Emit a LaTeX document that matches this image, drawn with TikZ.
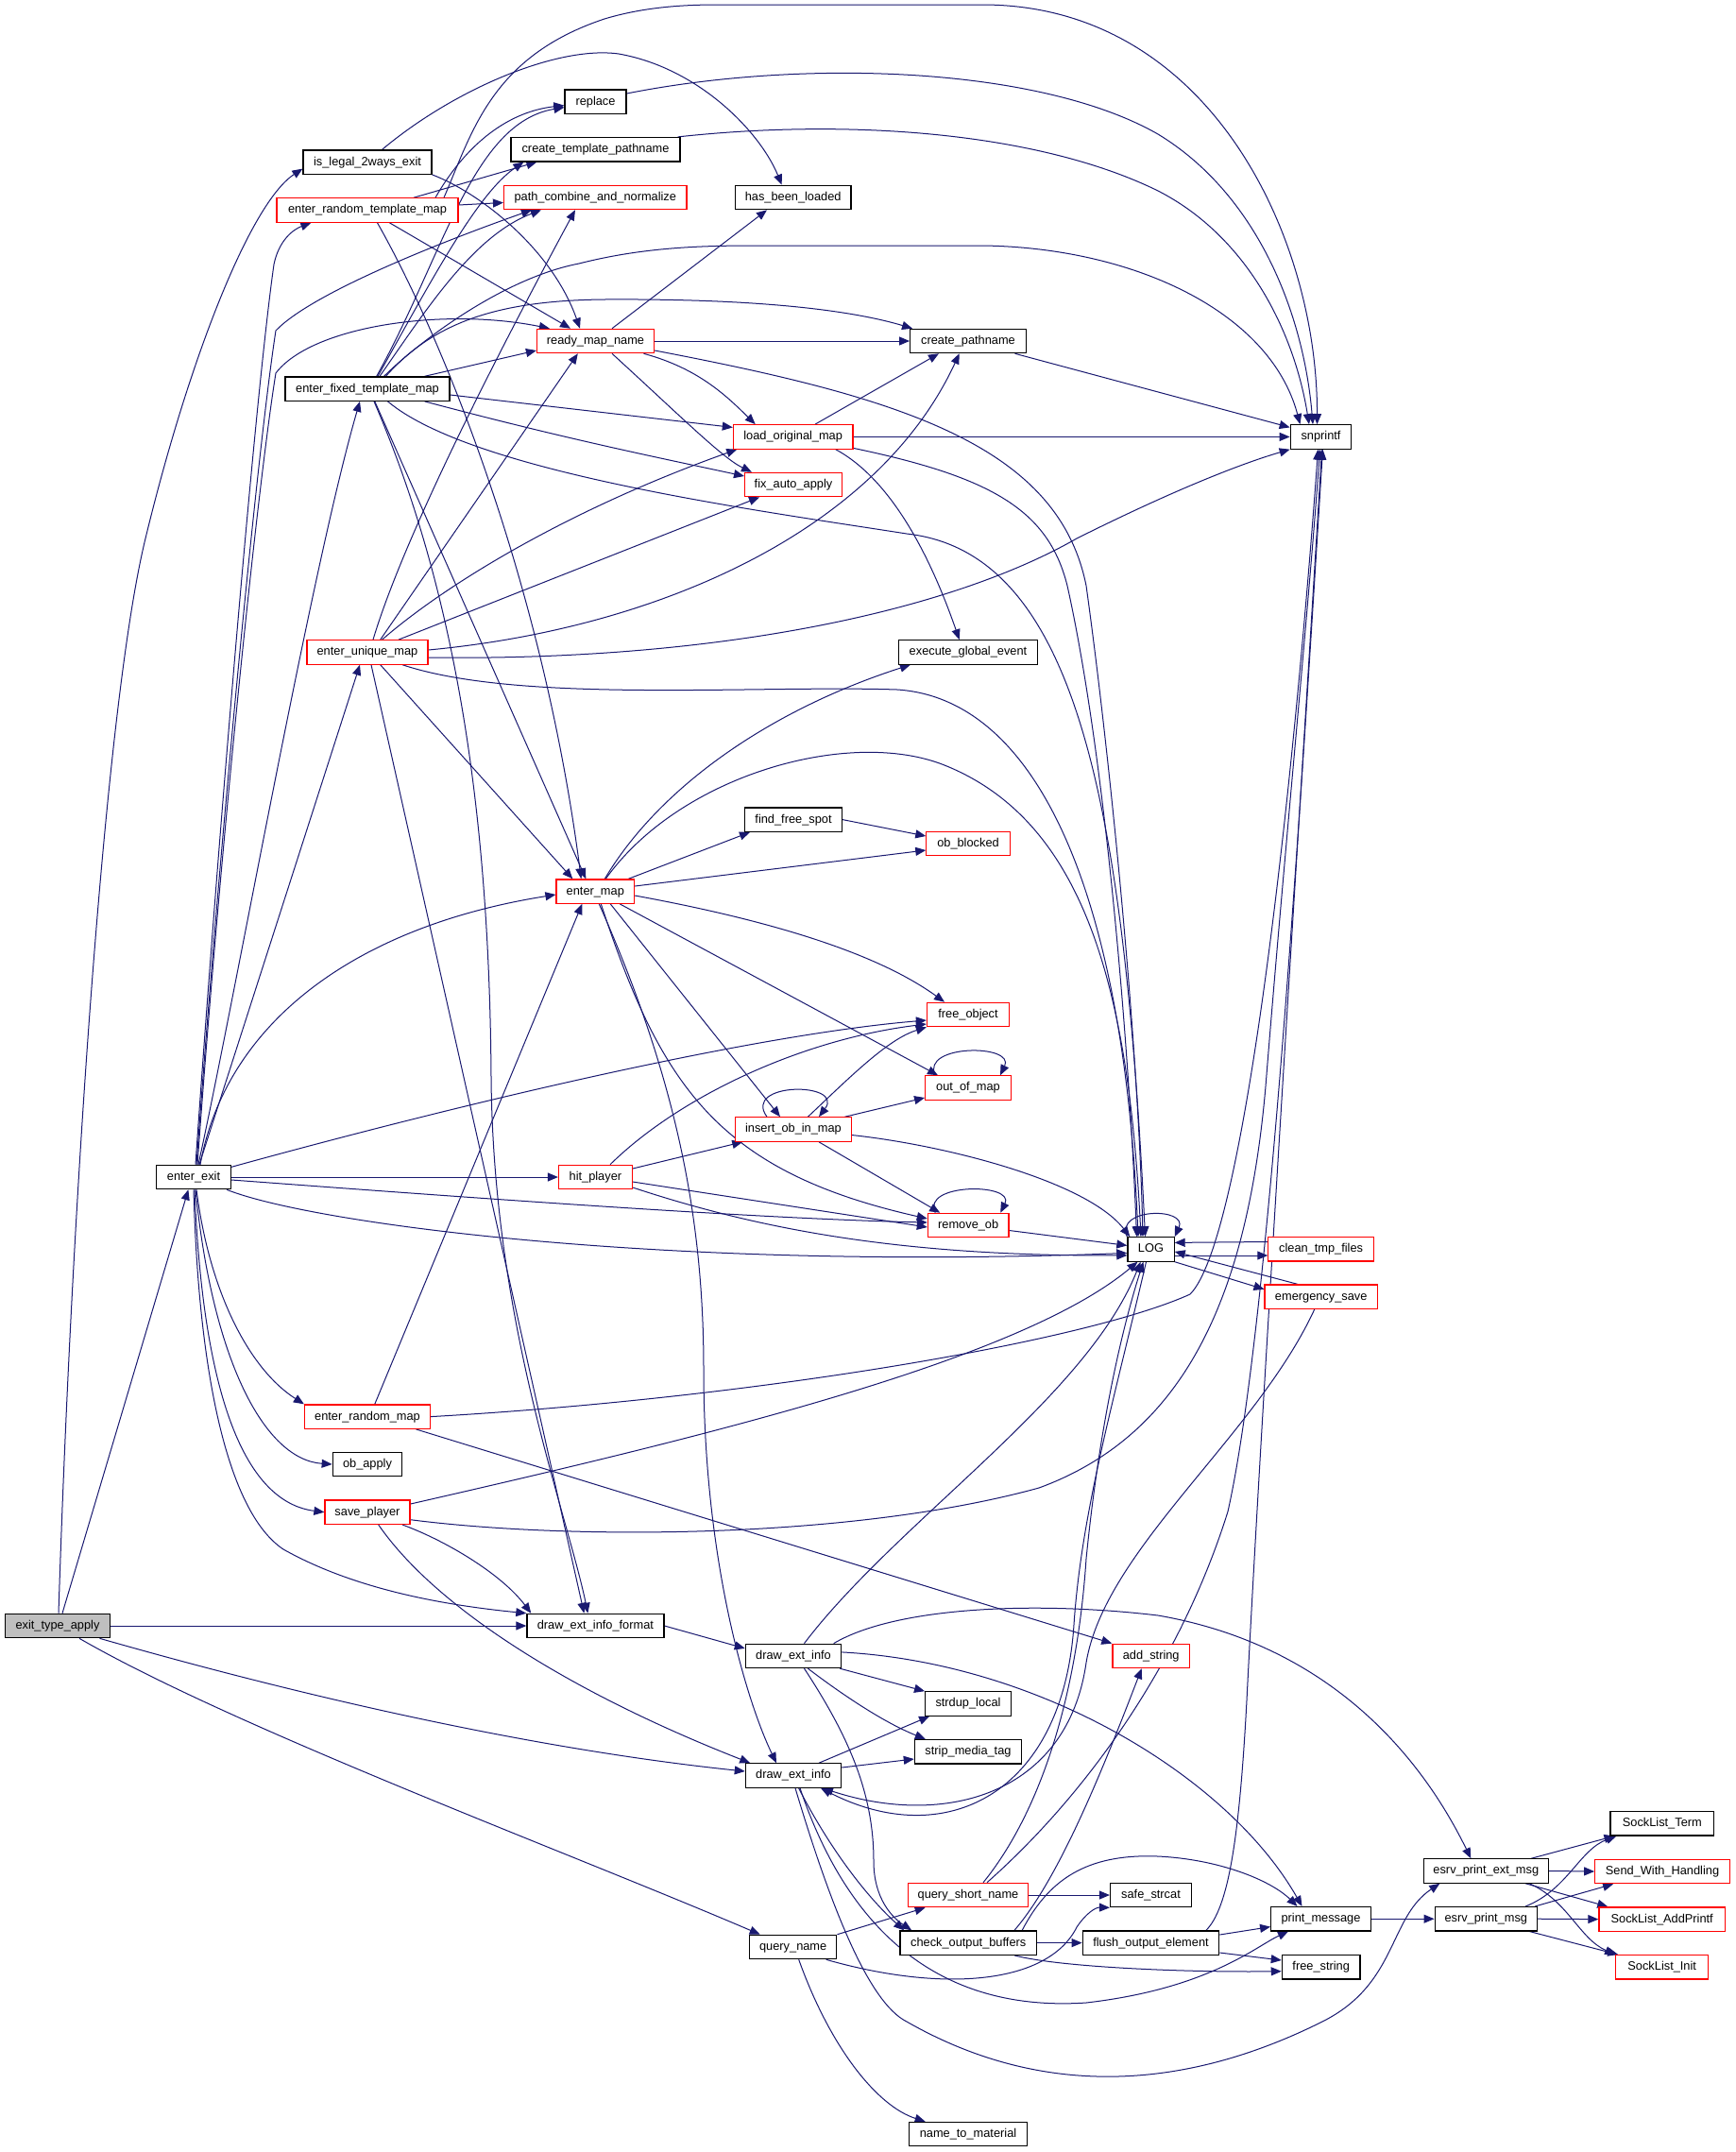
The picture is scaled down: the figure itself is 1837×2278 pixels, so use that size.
\documentclass[tikz,border=0pt]{standalone}
\usepackage{fontspec}
\setmainfont{Liberation Sans}
\usetikzlibrary{arrows.meta}
\definecolor{edgec}{HTML}{191970}
\definecolor{fillg}{HTML}{BFBFBF}
\pgfdeclarelayer{bg}
\pgfsetlayers{bg,main}
\begin{document}
\begin{tikzpicture}[x=1pt,y=-1pt,
  fn/.style={draw=black, line width=1.2pt, fill=white, minimum height=25.4pt, inner sep=0pt,
    text height=9.4pt, text depth=2.6pt, font=\fontsize{12.8pt}{15pt}\selectfont},
  fnr/.style={fn, draw=red},
  call/.style={draw=edgec, line width=1pt, -{Triangle[length=11pt,width=9pt]}}]
\useasboundingbox (0,0) rectangle (1837,2278);
% nodes
\node[fn, fill=fillg, minimum width=111pt] (n1) at (61,1721) {exit\_type\_apply};
\node[fn, minimum width=136pt] (n2) at (389,171.6) {is\_legal\_2ways\_exit};
\node[fnr, minimum width=192pt] (n3) at (389,222.5) {enter\_random\_template\_map};
\node[fn, minimum width=174pt] (n4) at (389,411.6) {enter\_fixed\_template\_map};
\node[fnr, minimum width=128pt] (n5) at (389,690.4) {enter\_unique\_map};
\node[fn, minimum width=79pt] (n6) at (205,1246) {enter\_exit};
\node[fnr, minimum width=133pt] (n7) at (389,1499.6) {enter\_random\_map};
\node[fn, minimum width=73.5pt] (n8) at (389,1550) {ob\_apply};
\node[fnr, minimum width=90pt] (n9) at (389,1600.7) {save\_player};
\node[fn, minimum width=65pt] (n10) at (630.5,107.6) {replace};
\node[fn, minimum width=179pt] (n11) at (630.5,158.2) {create\_template\_pathname};
\node[fnr, minimum width=193.5pt] (n12) at (630.3,209) {path\_combine\_and\_normalize};
\node[fnr, minimum width=124pt] (n13) at (630.5,361) {ready\_map\_name};
\node[fnr, minimum width=82.6pt] (n14) at (630.3,943.6) {enter\_map};
\node[fnr, minimum width=77.8pt] (n15) at (630.4,1246) {hit\_player};
\node[fn, minimum width=145pt] (n16) at (630.4,1721) {draw\_ext\_info\_format};
\node[fn, minimum width=122.6pt] (n17) at (839.7,209) {has\_been\_loaded};
\node[fnr, minimum width=126.6pt] (n18) at (839.7,462.4) {load\_original\_map};
\node[fnr, minimum width=102.8pt] (n19) at (840,513) {fix\_auto\_apply};
\node[fn, minimum width=102.8pt] (n20) at (840,867.6) {find\_free\_spot};
\node[fnr, minimum width=122.3pt] (n21) at (840,1195.5) {insert\_ob\_in\_map};
\node[fn, minimum width=101.3pt] (n22) at (840,1752.9) {draw\_ext\_info};
\node[fn, minimum width=101.3pt] (n23) at (840,1879.5) {draw\_ext\_info};
\node[fn, minimum width=92.3pt] (n24) at (839.7,2061) {query\_name};
\node[fn, minimum width=122.7pt] (n25) at (1025,361) {create\_pathname};
\node[fn, minimum width=147pt] (n26) at (1025,690.4) {execute\_global\_event};
\node[fnr, minimum width=88.3pt] (n27) at (1025,893) {ob\_blocked};
\node[fnr, minimum width=87.1pt] (n28) at (1025,1074) {free\_object};
\node[fnr, minimum width=90.7pt] (n29) at (1025,1151.5) {out\_of\_map};
\node[fnr, minimum width=85.6pt] (n30) at (1025.2,1297) {remove\_ob};
\node[fn, minimum width=90.7pt] (n31) at (1025,1803.5) {strdup\_local};
\node[fn, minimum width=113.3pt] (n32) at (1025,1854.2) {strip\_media\_tag};
\node[fnr, minimum width=127.5pt] (n33) at (1025,2006) {query\_short\_name};
\node[fn, minimum width=144.3pt] (n34) at (1025.2,2056.6) {check\_output\_buffers};
\node[fn, minimum width=125.5pt] (n35) at (1025,2259) {name\_to\_material};
\node[fn, minimum width=49.2pt] (n36) at (1218.5,1322.4) {LOG};
\node[fnr, minimum width=81.6pt] (n37) at (1218.7,1752.9) {add\_string};
\node[fn, minimum width=86pt] (n38) at (1218.5,2006) {safe\_strcat};
\node[fn, minimum width=144.5pt] (n39) at (1218.5,2056.6) {flush\_output\_element};
\node[fn, minimum width=64.5pt] (n40) at (1398.5,462.4) {snprintf};
\node[fnr, minimum width=111.5pt] (n41) at (1398.6,1322.2) {clean\_tmp\_files};
\node[fnr, minimum width=119.3pt] (n42) at (1398.7,1372.7) {emergency\_save};
\node[fn, minimum width=105.7pt] (n43) at (1398.5,2031.2) {print\_message};
\node[fn, minimum width=82.7pt] (n44) at (1398.7,2082.3) {free\_string};
\node[fn, minimum width=131.7pt] (n45) at (1573.3,1980.5) {esrv\_print\_ext\_msg};
\node[fn, minimum width=108.3pt] (n46) at (1573.3,2031.2) {esrv\_print\_msg};
\node[fn, minimum width=109.5pt] (n47) at (1759.8,1930.2) {SockList\_Term};
\node[fnr, minimum width=142.6pt] (n48) at (1760,1981) {Send\_With\_Handling};
\node[fnr, minimum width=133.6pt] (n49) at (1759.7,2031.6) {SockList\_AddPrintf};
\node[fnr, minimum width=97.8pt] (n50) at (1759.7,2082.3) {SockList\_Init};
\begin{pgfonlayer}{bg}
\fill[white] (0,0) rectangle (1837,2278);
% exit_type_apply
\draw[call] ([xshift=1pt]n1.north) .. controls (75,1300) and (110,750) .. (154,570) .. controls (200,380) and (265,215) .. ([yshift=-7pt]n2.west);
\draw[call] ([xshift=5pt]n1.north) -- ([xshift=-5.6pt]n6.south);
\draw[call] (n1.east) -- (n16.west);
\draw[call] ([xshift=44.5pt]n1.south) .. controls (300,1790) and (550,1850) .. ([yshift=4.5pt]n23.west);
\draw[call] ([xshift=23pt]n1.south) .. controls (250,1830) and (600,1960) .. ([xshift=-35pt]n24.north);
% is_legal_2ways_exit
\draw[call] ([xshift=15.6pt]n2.north) .. controls (480,95) and (590,48) .. (655,57) .. controls (740,72) and (805,140) .. ([xshift=-12pt]n17.north);
\draw[call] (n2.south east) .. controls (510,205) and (585,265) .. ([xshift=-16.5pt]n13.north);
% enter_random_template_map
\draw[call] ([xshift=72pt]n3.north) .. controls (495,150) and (540,118) .. ([yshift=-4pt]n10.west);
\draw[call] ([xshift=49pt]n3.north) -- ([xshift=28pt]n11.south west);
\draw[call] ([yshift=5.5pt]n3.east) -- ([yshift=-5.5pt]n12.west);
\draw[call] ([xshift=23.4pt]n3.south) -- ([xshift=-26.5pt]n13.north);
\draw[call] ([xshift=10.5pt]n3.south) .. controls (470,360) and (575,620) .. ([xshift=-15pt]n14.north);
\draw[call] ([xshift=81pt]n3.north) .. controls (500,140) and (520,60) .. (640,20) .. controls (680,8) and (720,5) .. (760,5) -- (1040,5) .. controls (1280,5) and (1395,250) .. ([xshift=-4pt]n40.north);
% enter_fixed_template_map
\draw[call] ([xshift=9.7pt]n4.north) .. controls (470,270) and (500,130) .. ([yshift=-6pt]n10.west);
\draw[call] ([xshift=11pt]n4.north) .. controls (455,300) and (505,205) .. ([xshift=14pt]n11.south west);
\draw[call] ([xshift=13pt]n4.north) .. controls (450,330) and (500,250) .. ([xshift=40pt]n12.south west);
\draw[call] ([xshift=17.6pt]n4.north) .. controls (440,365) and (530,295) .. (613,279) .. controls (680,262) and (740,260) .. (800,260) -- (1040,260) .. controls (1200,262) and (1345,330) .. ([xshift=-22pt]n40.north);
\draw[call] ([xshift=19.5pt]n4.north) .. controls (460,340) and (530,318) .. (640,317) .. controls (800,316) and (900,328) .. ([xshift=3pt]n25.north west);
\draw[call] ([xshift=60.6pt]n4.north) -- ([yshift=-10pt]n13.west);
\draw[call] ([yshift=-6.4pt]n4.east) -- ([yshift=10pt]n18.west);
\draw[call] ([xshift=60.6pt]n4.south) .. controls (600,465) and (700,485) .. ([yshift=9pt]n19.west);
\draw[call] ([xshift=21.5pt]n4.south) .. controls (500,500) and (800,540) .. (960,565) .. controls (1140,585) and (1190,850) .. ([xshift=-6pt]n36.north);
\draw[call] ([xshift=7.8pt]n4.south) -- ([xshift=-10pt]n14.north);
\draw[call] ([xshift=7pt]n4.south) .. controls (480,620) and (518,850) .. (520,1140) .. controls (522,1400) and (600,1600) .. ([xshift=-8pt]n16.north);
% enter_unique_map
\draw[call] ([xshift=6pt]n5.north) .. controls (430,560) and (540,350) .. ([xshift=76pt]n12.south west);
\draw[call] ([xshift=13.7pt]n5.north) -- ([xshift=-18.7pt]n13.south);
\draw[call] ([xshift=15.6pt]n5.north) .. controls (470,620) and (600,540) .. ([xshift=4.5pt]n18.south west);
\draw[call] ([xshift=33pt]n5.north) -- ([xshift=16pt]n19.south west);
\draw[call] ([yshift=2.4pt]n5.east) .. controls (700,665) and (930,560) .. ([xshift=-9.3pt]n25.south);
\draw[call] ([yshift=-5.6pt]n5.east) .. controls (750,700) and (1000,650) .. (1140,570) .. controls (1220,530) and (1300,495) .. (n40.south west);
\draw[call] ([xshift=37pt]n5.south) .. controls (550,745) and (800,725) .. (950,730) .. controls (1100,740) and (1190,950) .. ([xshift=-13.5pt]n36.north);
\draw[call] ([xshift=13.7pt]n5.south) -- ([xshift=-24pt]n14.north);
\draw[call] ([xshift=4pt]n5.south) -- ([xshift=-12pt]n16.north);
% enter_exit
\draw[call] ([xshift=2pt]n6.north) .. controls (230,900) and (270,420) .. (290,280) .. controls (295,255) and (310,243) .. ([xshift=37pt]n3.south west);
\draw[call] ([xshift=3pt]n6.north) .. controls (232,900) and (272,480) .. (292,350) .. controls (330,310) and (470,255) .. ([xshift=30pt]n12.south west);
\draw[call] ([xshift=4pt]n6.north) .. controls (233,900) and (272,520) .. (292,395) .. controls (330,345) and (470,325) .. ([xshift=14pt]n13.north west);
\draw[call] ([xshift=5pt]n6.north) .. controls (250,1050) and (330,600) .. ([xshift=-8pt]n4.south);
\draw[call] ([xshift=6pt]n6.north) -- ([xshift=-8pt]n5.south);
\draw[call] ([xshift=7pt]n6.north) .. controls (240,1080) and (380,980) .. ([yshift=-3.4pt]n14.west);
\draw[call] (n6.east) -- (n15.west);
\draw[call] ([yshift=10.7pt]n6.east) .. controls (500,1165) and (800,1095) .. ([yshift=-6pt]n28.west);
\draw[call] ([yshift=-3pt]n6.east) .. controls (500,1268) and (800,1290) .. ([yshift=3pt]n30.west);
\draw[call] ([xshift=35pt]n6.south) .. controls (330,1295) and (700,1345) .. ([yshift=-4pt]n36.west);
\draw[call] ([xshift=3pt]n6.south) .. controls (222,1370) and (265,1450) .. (n7.north west);
\draw[call] ([xshift=2pt]n6.south) .. controls (225,1440) and (280,1545) .. (n8.west);
\draw[call] ([xshift=1pt]n6.south) .. controls (215,1480) and (260,1590) .. (n9.west);
\draw[call] (n6.south) .. controls (210,1450) and (240,1600) .. (300,1640) .. controls (380,1685) and (480,1700) .. (n16.north west);
% enter_random_map
\draw[call] ([xshift=7.8pt]n7.north) -- ([xshift=-14pt]n14.south);
\draw[call] (n7.east) .. controls (800,1480) and (1150,1420) .. (1260,1370) .. controls (1320,1310) and (1372,800) .. ([xshift=-3pt]n40.south);
\draw[call] ([xshift=-15.7pt]n7.south east) -- (n37.north west);
% save_player
\draw[call] ([yshift=8.7pt]n9.east) .. controls (750,1520) and (1080,1440) .. ([xshift=-14pt]n36.south);
\draw[call] ([yshift=-8pt]n9.east) .. controls (600,1630) and (900,1630) .. (1100,1575) .. controls (1250,1520) and (1320,1380) .. (1340,1150) .. controls (1360,900) and (1385,650) .. ([xshift=-1pt]n40.south);
\draw[call] ([xshift=37pt]n9.south) .. controls (470,1630) and (530,1665) .. ([xshift=5pt]n16.north west);
\draw[call] ([xshift=11.7pt]n9.south) .. controls (460,1700) and (600,1790) .. ([xshift=5.5pt]n23.north west);
% replace, create_template_pathname, create_pathname -> snprintf
\draw[call] ([yshift=8.6pt]n10.east) .. controls (850,62) and (1100,70) .. (1226,142) .. controls (1330,205) and (1380,330) .. ([xshift=-8.5pt]n40.north);
\draw[call] ([xshift=-3pt]n11.north east) .. controls (900,125) and (1100,140) .. (1226,202) .. controls (1320,250) and (1370,350) .. ([xshift=-12.5pt]n40.north);
\draw[call] ([xshift=-12.35pt]n25.south east) -- ([yshift=10pt]n40.west);
% ready_map_name
\draw[call] ([xshift=17.5pt]n13.north) -- ([xshift=-27.7pt]n17.south);
\draw[call] (n13.east) -- (n25.west);
\draw[call] ([xshift=51pt]n13.south) .. controls (740,390) and (770,420) .. ([xshift=-40pt]n18.north);
\draw[call] ([xshift=17.5pt]n13.south) .. controls (720,440) and (765,485) .. ([xshift=8pt]n19.north west);
\draw[call] ([yshift=-10pt]n13.east) .. controls (950,420) and (1120,470) .. (1150,620) .. controls (1175,800) and (1205,1100) .. ([xshift=-8.5pt]n36.north);
% load_original_map
\draw[call] ([xshift=23.3pt]n18.north) -- ([xshift=-31pt]n25.south);
\draw[call] (n18.east) -- (n40.west);
\draw[call] ([yshift=-12pt]n18.east) .. controls (1050,505) and (1110,540) .. (1130,620) .. controls (1170,800) and (1195,1100) .. ([xshift=-15pt]n36.north);
\draw[call] ([xshift=45pt]n18.south) .. controls (930,500) and (975,560) .. ([xshift=-9.3pt]n26.north);
% enter_map
\draw[call] ([xshift=10pt]n14.north) .. controls (700,830) and (820,750) .. ([xshift=13pt]n26.south west);
\draw[call] ([xshift=11pt]n14.north) .. controls (720,820) and (900,770) .. (1000,810) .. controls (1150,870) and (1195,1050) .. ([xshift=-10.5pt]n36.north);
\draw[call] ([xshift=35pt]n14.north) -- ([xshift=6pt]n20.south west);
\draw[call] ([yshift=5.6pt]n14.east) -- ([yshift=-7pt]n27.west);
\draw[call] ([yshift=-4.4pt]n14.east) .. controls (820,975) and (930,1010) .. ([xshift=-25pt]n28.north);
\draw[call] ([xshift=26pt]n14.south) -- ([xshift=-32pt]n29.north);
\draw[call] ([xshift=16pt]n14.south) -- ([xshift=-14pt]n21.north);
\draw[call] ([xshift=6pt]n14.south) .. controls (700,1150) and (760,1240) .. ([yshift=7pt]n30.west);
\draw[call] ([xshift=4pt]n14.south) .. controls (720,1150) and (745,1300) .. (745,1450) .. controls (745,1650) and (790,1800) .. ([xshift=-18pt]n23.north);
% find_free_spot
\draw[call] (n20.east) -- ([yshift=8pt]n27.west);
% hit_player
\draw[call] ([xshift=15.6pt]n15.north) .. controls (720,1160) and (850,1100) .. ([yshift=-10pt]n28.west);
\draw[call] ([yshift=9pt]n15.east) -- ([xshift=8pt]n21.south west);
\draw[call] ([yshift=-5pt]n15.east) -- ([yshift=-2pt]n30.west);
\draw[call] ([yshift=-11pt]n15.east) .. controls (800,1300) and (950,1330) .. ([yshift=-6.5pt]n36.west);
% insert_ob_in_map
\draw[call] ([xshift=-28pt]n21.north) .. controls (785,1145) and (895,1145) .. ([xshift=27pt]n21.north);
\draw[call] ([xshift=15.4pt]n21.north) .. controls (900,1140) and (940,1100) .. (n28.south west);
\draw[call] ([xshift=54.5pt]n21.north) -- ([yshift=-10.5pt]n29.west);
\draw[call] ([yshift=-6pt]n21.east) .. controls (1000,1212) and (1150,1250) .. ([xshift=3pt]n36.north west);
\draw[call] ([xshift=27pt]n21.south) -- ([xshift=-30pt]n30.north);
% out_of_map, remove_ob
\draw[call] ([xshift=-35pt]n29.north) .. controls (975,1105) and (1075,1105) .. ([xshift=34pt]n29.north);
\draw[call] ([xshift=-35pt]n30.north) .. controls (975,1252) and (1075,1252) .. ([xshift=34pt]n30.north);
\draw[call] ([yshift=-5.5pt]n30.east) -- ([yshift=4pt]n36.west);
% LOG
\draw[call] (n36.north west) .. controls (1180,1278) and (1258,1278) .. (n36.north east);
\draw[call] ([yshift=-6.6pt]n36.east) -- ([yshift=-6.8pt]n41.west);
\draw[call] ([yshift=7.7pt]n41.west) -- ([yshift=7pt]n36.east);
\draw[call] (n36.south east) -- ([yshift=8pt]n42.west);
\draw[call] ([xshift=-24.7pt]n42.north) -- ([yshift=-2.5pt]n36.east);
\draw[call] ([xshift=-7pt]n42.south) .. controls (1330,1520) and (1170,1640) .. (1150,1760) .. controls (1130,1900) and (1000,1935) .. ([xshift=31pt]n23.south);
\draw[call] ([xshift=-5pt]n36.south) .. controls (1180,1480) and (1145,1600) .. (1137,1720) .. controls (1125,1900) and (1000,1960) .. ([xshift=29pt]n23.south);
% draw_ext_info (upper)
\draw[call] (n16.east) -- ([yshift=8pt]n22.west);
\draw[call] ([xshift=11.5pt]n22.north) .. controls (950,1610) and (1150,1480) .. ([xshift=-11pt]n36.south);
\draw[call] ([xshift=42.7pt]n22.north) .. controls (950,1700) and (1100,1695) .. (1226,1710) .. controls (1400,1740) and (1500,1850) .. ([xshift=-16pt]n45.north);
\draw[call] ([yshift=4pt]n22.east) .. controls (1100,1760) and (1300,1880) .. ([xshift=-20pt]n43.north);
\draw[call] ([xshift=-2pt]n22.south east) -- (n31.north west);
\draw[call] ([xshift=15.4pt]n22.south) .. controls (900,1800) and (940,1825) .. ([xshift=12pt]n32.north west);
\draw[call] ([xshift=11.5pt]n22.south) .. controls (900,1840) and (925,1900) .. (925,1970) .. controls (925,2010) and (945,2030) .. ([xshift=-60pt]n34.north);
% draw_ext_info (lower)
\draw[call] ([xshift=27pt]n23.north) -- ([xshift=5pt]n31.south west);
\draw[call] ([yshift=8.5pt]n23.east) -- ([yshift=-7.8pt]n32.west);
\draw[call] ([xshift=5.6pt]n23.south) .. controls (880,1960) and (920,2010) .. ([xshift=-68pt]n34.north);
\draw[call] ([xshift=7pt]n23.south) .. controls (900,2050) and (1000,2130) .. (1150,2120) .. controls (1280,2105) and (1330,2060) .. ([xshift=-34.5pt]n43.south);
\draw[call] ([xshift=2pt]n23.south) .. controls (880,2020) and (920,2120) .. (960,2140) .. controls (1100,2220) and (1250,2215) .. (1400,2140) .. controls (1480,2100) and (1470,2030) .. ([xshift=-49pt]n45.south);
% query_name
\draw[call] (n24.north east) -- ([xshift=19pt]n33.south west);
\draw[call] ([xshift=35pt]n24.south) .. controls (1000,2110) and (1110,2100) .. (1140,2040) .. controls (1150,2025) and (1160,2019) .. (n38.south west);
\draw[call] ([xshift=6pt]n24.south) .. controls (880,2170) and (930,2230) .. ([xshift=18pt]n35.north west);
% query_short_name
\draw[call] (n33.east) -- (n38.west);
\draw[call] ([xshift=16pt]n33.north) .. controls (1100,1920) and (1140,1800) .. (1150,1650) .. controls (1165,1500) and (1190,1400) .. ([xshift=-8pt]n36.south);
\draw[call] ([xshift=20pt]n33.north) .. controls (1150,1900) and (1250,1760) .. (1300,1600) .. controls (1345,1400) and (1380,800) .. ([xshift=2pt]n40.south);
% check_output_buffers
\draw[call] (n34.east) -- (n39.west);
\draw[call] ([xshift=48.8pt]n34.north) .. controls (1120,1990) and (1165,1880) .. ([xshift=-10pt]n37.south);
\draw[call] ([xshift=57pt]n34.north) .. controls (1110,1990) and (1150,1962) .. (1226,1965) .. controls (1290,1968) and (1345,1990) .. ([xshift=-25pt]n43.north);
\draw[call] ([xshift=49pt]n34.south) .. controls (1120,2082) and (1250,2088) .. ([yshift=-4.4pt]n44.west);
% flush_output_element
\draw[call] ([yshift=8.6pt]n39.east) -- ([yshift=-8.4pt]n43.west);
\draw[call] ([yshift=-10.4pt]n39.east) -- ([yshift=7.3pt]n44.west);
\draw[call] ([xshift=58.5pt]n39.north) .. controls (1300,2020) and (1312,1950) .. (1320,1800) .. controls (1335,1500) and (1380,800) .. ([xshift=1pt]n40.south);
% print_message and esrv
\draw[call] (n43.east) -- (n46.west);
\draw[call] ([xshift=48pt]n45.north) -- ([xshift=5pt]n47.south west);
\draw[call] (n45.east) -- (n48.west);
\draw[call] ([xshift=42pt]n45.south) -- ([xshift=10pt]n49.north west);
\draw[call] ([xshift=46pt]n45.south) .. controls (1660,2012) and (1672,2052) .. (n50.north west);
\draw[call] ([xshift=42pt]n46.north) .. controls (1660,2000) and (1672,1958) .. ([xshift=7pt]n47.south west);
\draw[call] ([xshift=52pt]n46.north) -- ([xshift=20pt]n48.south west);
\draw[call] (n46.east) -- (n49.west);
\draw[call] ([xshift=46pt]n46.south) -- ([xshift=3pt]n50.north west);
\end{pgfonlayer}
\end{tikzpicture}
\end{document}
